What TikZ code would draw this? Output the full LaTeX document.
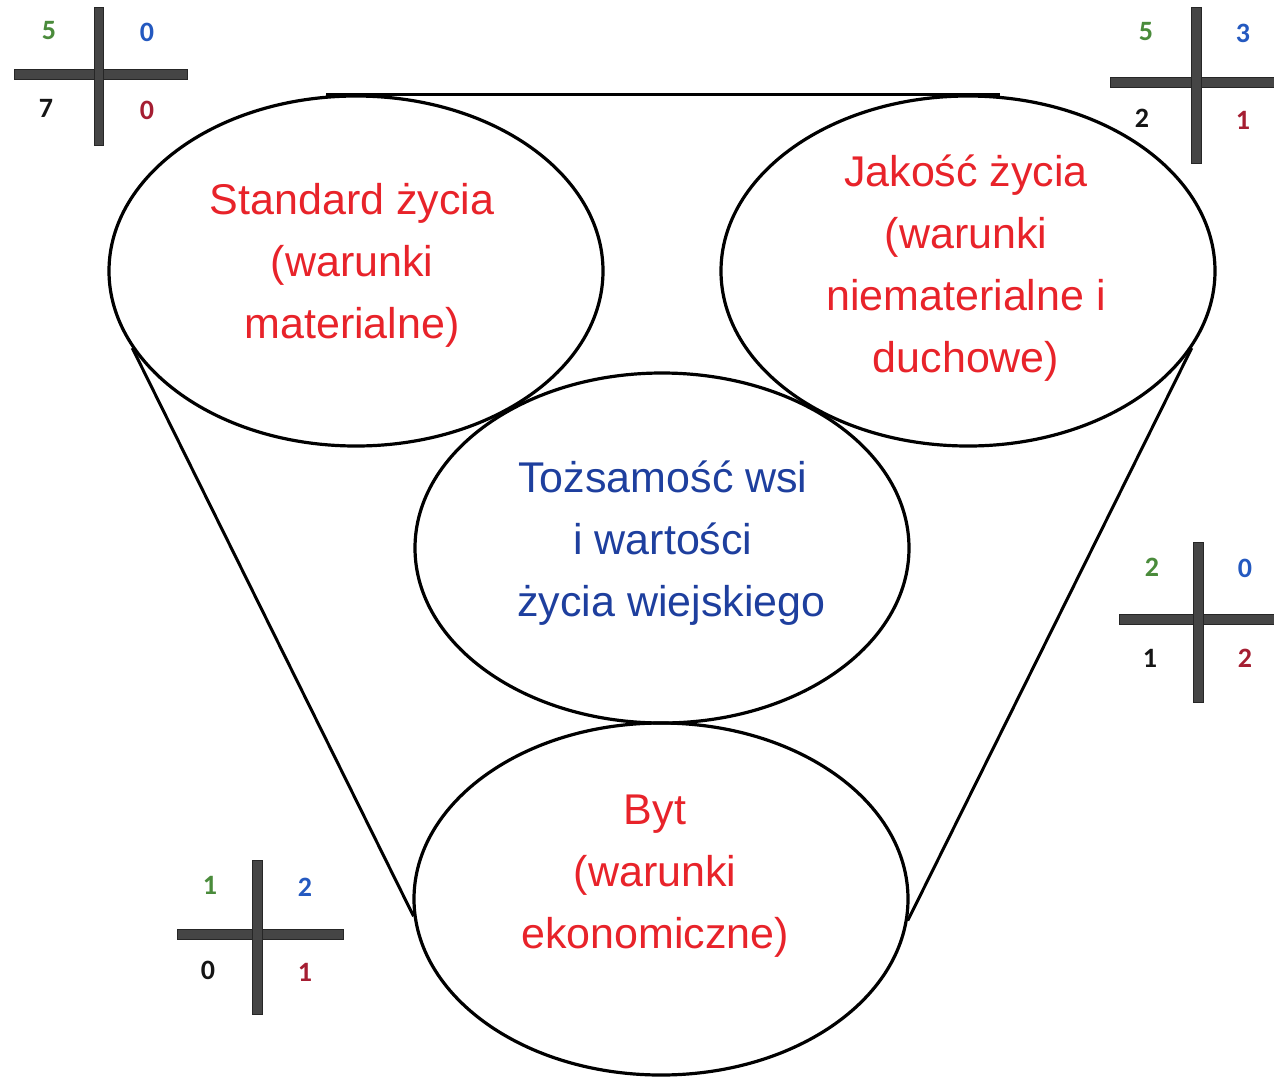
\documentclass[tikz,border=0pt]{standalone}
\usepackage{fontspec}
\setmainfont{Liberation Sans}
\newfontfamily\digfont{Carlito}
\usetikzlibrary{shapes.geometric,calc}
\definecolor{txtred}{HTML}{E8232A}
\definecolor{txtblue}{HTML}{1E3F9E}
\definecolor{dgreen}{HTML}{4A8B3B}
\definecolor{dblue}{HTML}{2459C0}
\definecolor{dred}{HTML}{A51E32}
\definecolor{dblack}{HTML}{151515}
\definecolor{barcol}{HTML}{454545}
\begin{document}
\begin{tikzpicture}[x=0.5pt,y=-0.5pt,
  ell/.style={draw=black, line width=1.6pt, ellipse, minimum width=247pt, minimum height=175pt, inner sep=0pt},
  lbl/.style={align=center, inner sep=0pt, font=\fontsize{21.5pt}{31pt}\selectfont},
  redlbl/.style={lbl, text=txtred},
  bluelbl/.style={lbl, text=txtblue},
  dig/.style={inner sep=0pt, font=\digfont\bfseries\fontsize{14pt}{16pt}\selectfont},
  bar/.style={fill=barcol, draw=black!85, line width=0.4pt},
  conn/.style={draw=black, line width=1.5pt}
]
\useasboundingbox (0,0) rectangle (1274,1077);
\fill[white] (0,0) rectangle (1274,1077);

% ellipses
\node[ell] (std) at (356,271) {};
\node[ell] (jak) at (968,271) {};
\node[ell] (toz) at (662,548) {};
\node[ell, minimum height=176pt] (byt) at (661,899) {};

% connectors
\draw[conn] ($(std.north)+(-30,0)$) -- ($(jak.north)+(32,0)$);
\draw[conn] (std.199) -- (byt.184.6);
\draw[conn] (jak.341.8) -- (byt.355.8);

% texts
\node[redlbl] (stdt) at (352,265) {Standard życia\\(warunki\\materialne)};
\node[redlbl] (jakt) at (966,268) {Jakość życia\\(warunki\\niematerialne i\\duchowe)};
\node[bluelbl] (tozt) at (663,543) {Tożsamość wsi\\i wartości\\\hspace*{0.4em}życia wiejskiego};
\node[redlbl] (bytt) at (655,876) {Byt\\(warunki\\ekonomiczne)};

% crosses
\draw[bar] (14,69) rectangle (187,79);
\draw[bar] (94,7) rectangle (103,145);
\draw[bar] (1110,77) rectangle (1274,87);
\draw[bar] (1191,7) rectangle (1201,163);
\draw[bar] (1119,614) rectangle (1274,624);
\draw[bar] (1193,542) rectangle (1203,702);
\draw[bar] (177,929) rectangle (343,939);
\draw[bar] (252,860) rectangle (262,1014);

% digits top-left
\node[dig, text=dgreen] (tlg) at (49,31) {5};
\node[dig, text=dblue] (tlb) at (147,32) {0};
\node[dig, text=dblack] (tlk) at (46,108) {7};
\node[dig, text=dred] (tlr) at (147,110) {0};
% digits top-right
\node[dig, text=dgreen] (trg) at (1146,32) {5};
\node[dig, text=dblue] (trb) at (1243,33) {3};
\node[dig, text=dblack] (trk) at (1142,118) {2};
\node[dig, text=dred] (trr) at (1243,120) {1};
% digits right-middle
\node[dig, text=dgreen] (rmg) at (1152,567) {2};
\node[dig, text=dblue] (rmb) at (1245,568) {0};
\node[dig, text=dblack] (rmk) at (1150,658) {1};
\node[dig, text=dred] (rmr) at (1245,658) {2};
% digits bottom-left
\node[dig, text=dgreen] (blg) at (210,885) {1};
\node[dig, text=dblue] (blb) at (305,887) {2};
\node[dig, text=dblack] (blk) at (208,970) {0};
\node[dig, text=dred] (blr) at (305,972) {1};
\end{tikzpicture}
\end{document}
